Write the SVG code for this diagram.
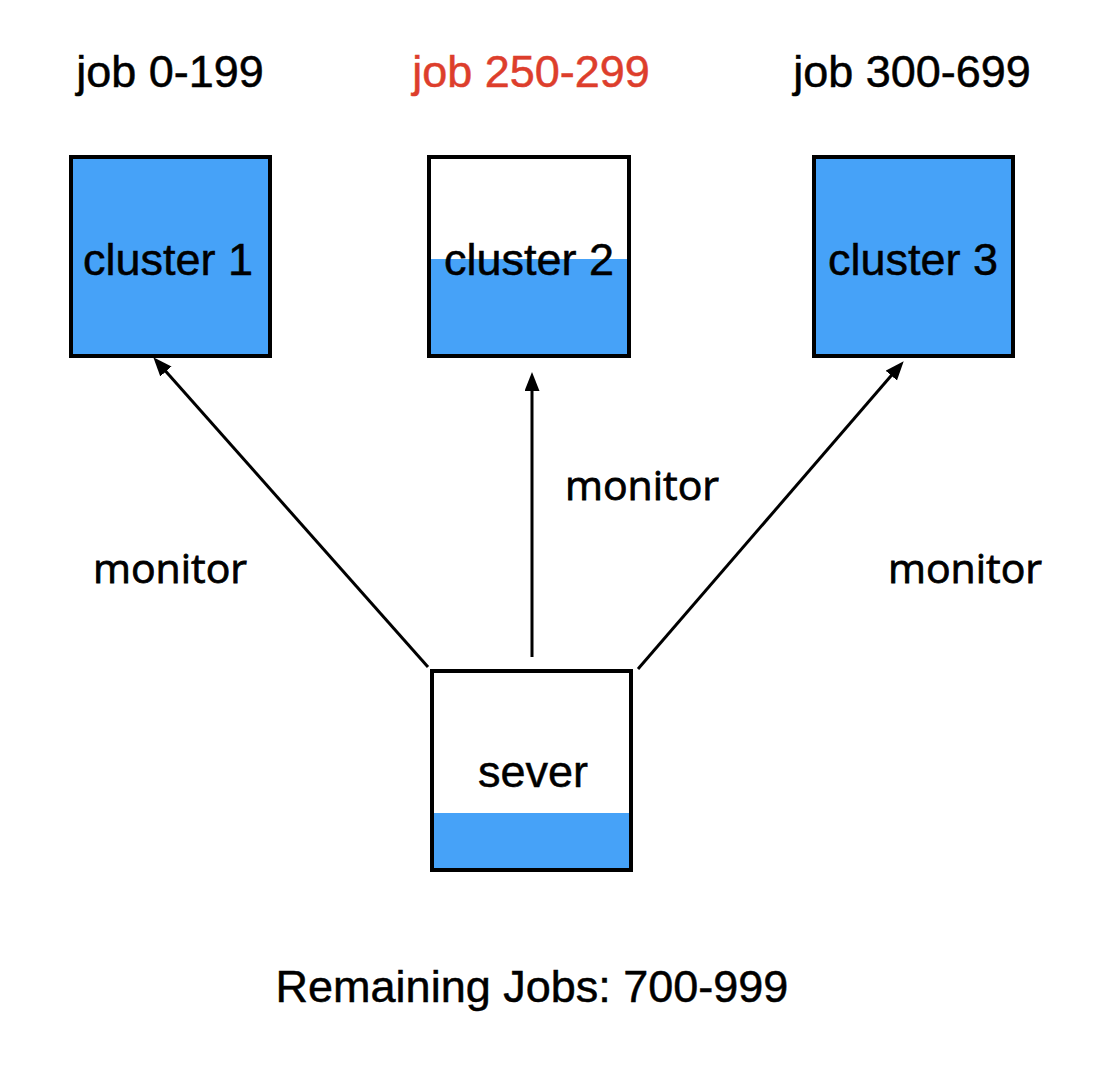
<svg xmlns="http://www.w3.org/2000/svg" width="1112" height="1078" viewBox="0 0 1112 1078">
<defs>
<style>
.box{fill:none;stroke:#000;stroke-width:4}
.fill{fill:#46a2f8}
.t{font-family:"Liberation Sans",Arial,Helvetica,sans-serif;font-size:45px;fill:#000;stroke:#000;stroke-width:0.5;text-anchor:middle}
.red{fill:#dd3e2c;stroke:#dd3e2c}
.mon{font-family:"Open Sans","Noto Sans",sans-serif;font-size:41px;fill:#000;stroke:#000;stroke-width:0.8;text-anchor:middle}
.conn{stroke:#000;stroke-width:3;fill:none}
</style>
<marker id="ah" markerUnits="userSpaceOnUse" markerWidth="22" markerHeight="18" refX="8" refY="7.5" orient="auto">
<path d="M0,0 L19,7.5 L0,15 z" fill="#000"/>
</marker>
</defs>
<rect width="1112" height="1078" fill="#fff"/>
<g id="labels-top">
<text class="t" x="170" y="87">job 0-199</text>
<text class="t red" x="531" y="87">job 250-299</text>
<text class="t" x="912" y="87">job 300-699</text>
</g>
<g id="cluster1">
<rect class="fill" x="71" y="157" width="199" height="199"/>
<rect class="box" x="71" y="157" width="199" height="199"/>
<text class="t" x="168" y="275">cluster 1</text>
</g>
<g id="cluster2">
<rect class="fill" x="429" y="259" width="200" height="97"/>
<text class="t" x="529" y="275">cluster 2</text>
<rect class="box" x="429" y="157" width="200" height="199"/>
</g>
<g id="cluster3">
<rect class="fill" x="814" y="157" width="199" height="199"/>
<rect class="box" x="814" y="157" width="199" height="199"/>
<text class="t" x="913" y="275">cluster 3</text>
</g>
<g id="server">
<rect class="fill" x="432" y="813" width="199" height="57"/>
<rect class="box" x="432" y="671" width="199" height="199"/>
<text class="t" x="533" y="787">sever</text>
</g>
<g id="connectors">
<line class="conn" x1="428" y1="667" x2="160.6" y2="365.5" marker-end="url(#ah)"/>
<line class="conn" x1="532" y1="657" x2="532" y2="383" marker-end="url(#ah)"/>
<line class="conn" x1="638" y1="669" x2="896.5" y2="369.6" marker-end="url(#ah)"/>
<text class="mon" x="170" y="583">monitor</text>
<text class="mon" x="642" y="500">monitor</text>
<text class="mon" x="965" y="583">monitor</text>
</g>
<g id="footer">
<text class="t" x="532" y="1002">Remaining Jobs: 700-999</text>
</g>
</svg>
